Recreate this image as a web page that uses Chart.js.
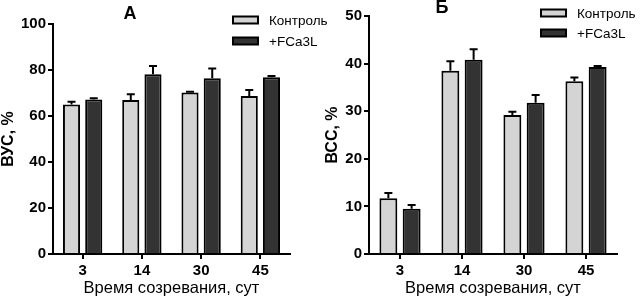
<!DOCTYPE html>
<html>
<head>
<meta charset="utf-8">
<script src="https://cdn.jsdelivr.net/npm/chart.js@4/dist/chart.umd.min.js"></script>
<style>
html,body{margin:0;padding:0;background:#fff;}
#wrap{position:relative;width:641px;height:298px;overflow:hidden;}
#cA{position:absolute;left:0;top:0;}
#cB{position:absolute;left:320px;top:0;}
</style>
</head>
<body>
<div id="wrap">
<canvas id="cA" width="340" height="298"></canvas>
<canvas id="cB" width="321" height="298"></canvas>
</div>
<script>
// ---- data ----
const categories = ['3', '14', '30', '45'];
const seriesNames = ['Контроль', '+FCa3L'];
const xTitle = 'Время созревания, сут';

const vusControl = [65.0, 67.0, 70.2, 68.7];
const vusControlErr = [1.2, 2.5, 0.3, 2.6];
const vusFca = [67.2, 78.2, 76.4, 76.9];
const vusFcaErr = [0.5, 3.5, 4.2, 0.5];

const bccControl = [11.7, 38.5, 29.2, 36.3];
const bccControlErr = [1.1, 2.0, 0.7, 0.8];
const bccFca = [9.5, 40.8, 31.8, 39.3];
const bccFcaErr = [0.8, 2.2, 1.6, 0.2];

const yTicksA = {min: 0, max: 100, step: 20};
const yTicksB = {min: 0, max: 50, step: 10};

const FONT = "'Liberation Sans', Arial, Helvetica, sans-serif";
const LIGHT = '#d4d4d4';
const DARK = '#333333';

const errorBarPlugin = {
  id: 'errorBars',
  afterDatasetsDraw(chart) {
    const ctx = chart.ctx;
    const yScale = chart.scales.y;
    ctx.save();
    ctx.strokeStyle = '#000';
    ctx.lineWidth = 2;
    chart.data.datasets.forEach((ds, di) => {
      const meta = chart.getDatasetMeta(di);
      meta.data.forEach((bar, i) => {
        const v = ds.data[i];
        const e = ds.errors[i];
        const x = bar.x;
        const yTop = yScale.getPixelForValue(v);
        const yErr = yScale.getPixelForValue(v + e);
        ctx.beginPath();
        ctx.moveTo(x, yTop);
        ctx.lineTo(x, yErr);
        ctx.moveTo(x - 4, yErr);
        ctx.lineTo(x + 4, yErr);
        ctx.stroke();
      });
    });
    ctx.restore();
  }
};

const decorPlugin = {
  id: 'decor',
  afterDraw(chart, args, opts) {
    const ctx = chart.ctx;
    ctx.save();
    ctx.fillStyle = '#000';
    ctx.font = 'bold 18px ' + FONT;
    ctx.textAlign = 'center';
    ctx.textBaseline = 'middle';
    ctx.fillText(opts.title, opts.titleX, opts.titleY);
    ctx.font = '13.5px ' + FONT;
    ctx.textAlign = 'left';
    chart.data.datasets.forEach((ds, i) => {
      const y = opts.legendY + i * opts.legendGap;
      ctx.fillStyle = ds.backgroundColor;
      ctx.fillRect(opts.legendX, y - 3.5, 25, 7);
      ctx.strokeStyle = '#000';
      ctx.lineWidth = 2;
      ctx.strokeRect(opts.legendX, y - 3.5, 25, 7);
      ctx.fillStyle = '#000';
      ctx.fillText(ds.label, opts.textX, y + 1);
    });
    ctx.restore();
  }
};

function makeChart(id, ctrl, ctrlErr, fca, fcaErr, yt, yTitle, cfg) {
  return new Chart(document.getElementById(id), {
    type: 'bar',
    data: {
      labels: categories,
      datasets: [
        {label: seriesNames[0], data: ctrl, errors: ctrlErr, backgroundColor: LIGHT, borderColor: '#000', borderWidth: 2, borderSkipped: 'start'},
        {label: seriesNames[1], data: fca, errors: fcaErr, backgroundColor: DARK, borderColor: '#000', borderWidth: 2, borderSkipped: 'start'}
      ]
    },
    options: {
      responsive: false,
      animation: false,
      events: [],
      categoryPercentage: 0.75,
      barPercentage: 0.77,
      layout: {padding: {top: cfg.top, right: cfg.right, left: 0, bottom: 0}},
      plugins: {
        legend: {display: false},
        tooltip: {enabled: false},
        decor: cfg.decor
      },
      scales: {
        x: {
          offset: true,
          grid: {offset: false, drawOnChartArea: false, drawTicks: true, tickLength: 5, color: '#000', lineWidth: 2},
          border: {display: true, color: '#000', width: 2},
          ticks: {color: '#000', font: {family: FONT, size: 15, weight: 'bold'}, padding: 3, maxRotation: 0},
          title: {display: true, text: xTitle, color: '#000', font: {family: FONT, size: 16.5, lineHeight: 1.2}, padding: {top: 0, bottom: 0}},
          afterFit(s) { s.height = 44; }
        },
        y: {
          min: yt.min, max: yt.max,
          grid: {drawOnChartArea: false, drawTicks: true, tickLength: 5, color: '#000', lineWidth: 2},
          border: {display: true, color: '#000', width: 2},
          ticks: {stepSize: yt.step, color: '#000', font: {family: FONT, size: 15, weight: 'bold'}, padding: 2},
          title: {display: true, text: yTitle, color: '#000', font: {family: FONT, size: 16, weight: 'bold', lineHeight: 1.1}, padding: {top: cfg.ytPad, bottom: 0}},
          afterFit(s) { s.width = cfg.yw; }
        }
      }
    },
    plugins: [errorBarPlugin, decorPlugin]
  });
}

makeChart('cA', vusControl, vusControlErr, vusFca, vusFcaErr, yTicksA, 'ВУС, %',
  {top: 24, right: 50, yw: 53, ytPad: 0,
   decor: {title: 'А', titleX: 130, titleY: 14, legendX: 233, legendY: 20, legendGap: 21, textX: 269}});
makeChart('cB', bccControl, bccControlErr, bccFca, bccFcaErr, yTicksB, 'ВСС, %',
  {top: 16, right: 24, yw: 49, ytPad: 4,
   decor: {title: 'Б', titleX: 122, titleY: 8, legendX: 221, legendY: 13, legendGap: 20, textX: 257}});
</script>
</body>
</html>
